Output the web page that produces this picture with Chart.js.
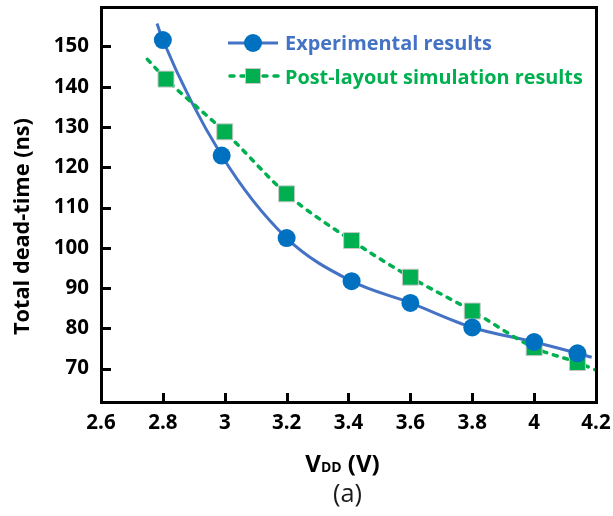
<!DOCTYPE html>
<html>
<head>
<meta charset="utf-8">
<script src="https://cdn.jsdelivr.net/npm/chart.js@4.4.1/dist/chart.umd.min.js"></script>
<style>
  html, body { margin: 0; padding: 0; background: #fff; }
  #wrap { width: 613px; height: 516px; }
</style>
</head>
<body>
<div id="wrap"><canvas id="deadTime" width="613" height="516"></canvas></div>
<script>
  // values
  var expVdd = [2.8, 2.99, 3.2, 3.41, 3.6, 3.8, 4.0, 4.14];
  var expTime = [151.6, 122.9, 102.4, 91.7, 86.3, 80.2, 76.6, 73.8];
  var simVdd = [2.81, 3.0, 3.2, 3.41, 3.6, 3.8, 4.0, 4.14];
  var simTime = [141.9, 128.8, 113.4, 101.8, 92.7, 84.3, 75.2, 71.5];
  // where the trend lines start and stop
  var expTrendVdd = [2.781, 4.186];
  var expTrendTime = [155.7, 72.8];
  var simTrendVdd = [2.75, 4.2];
  var simTrendTime = [146.8, 69.6];

  var xTicks = [2.6, 2.8, 3.0, 3.2, 3.4, 3.6, 3.8, 4.0, 4.2];
  var yTicks = [70, 80, 90, 100, 110, 120, 130, 140, 150];

  var blueLine = '#4472C4', blueDot = '#0070C0', green = '#00B050';
  var FONT = '"Open Sans"';

  function pts(xs, ys) {
    return xs.map(function(v, i) { return {x: v, y: ys[i]}; });
  }
  function trend(ends, endVals, xs, ys) {
    var p = pts(xs, ys);
    p.unshift({x: ends[0], y: endVals[0]});
    p.push({x: ends[1], y: endVals[1]});
    return p;
  }
  // font size that makes text about w pixels wide
  function fit(ctx, text, w, weight) {
    ctx.font = weight + ' 20px ' + FONT;
    return 20 * w / ctx.measureText(text).width;
  }

  var deco = {
    id: 'deco',
    afterDraw: function(chart) {
      var ctx = chart.ctx;
      var xs = chart.scales.x, ys = chart.scales.y;
      var L = Math.round(xs.left), R = Math.round(xs.right);
      var T = Math.round(ys.top), B = Math.round(ys.bottom);
      ctx.save();

      // frame and inner ticks, whole pixels only
      ctx.fillStyle = '#000';
      ctx.fillRect(L - 1, T - 1, R - L + 2, 3);
      ctx.fillRect(L - 1, B - 1, R - L + 2, 3);
      ctx.fillRect(L - 1, T - 1, 3, B - T + 3);
      ctx.fillRect(R - 1, T - 1, 3, B - T + 3);
      xTicks.slice(1, -1).forEach(function(v) {
        var px = Math.round(xs.getPixelForValue(v));
        ctx.fillRect(px - 1, B - 9, 3, 9);
      });
      yTicks.forEach(function(v) {
        var py = Math.round(ys.getPixelForValue(v));
        ctx.fillRect(L, py - 1, 10, 3);
      });

      // legend
      ctx.lineWidth = 3;
      ctx.strokeStyle = blueLine;
      ctx.beginPath(); ctx.moveTo(228, 43); ctx.lineTo(278, 43); ctx.stroke();
      ctx.fillStyle = blueDot;
      ctx.beginPath(); ctx.arc(253, 43, 9, 0, Math.PI * 2); ctx.fill();
      ctx.strokeStyle = green;
      ctx.lineWidth = 3.5;
      ctx.lineCap = 'round';
      ctx.setLineDash([4, 7]);
      ctx.beginPath(); ctx.moveTo(230, 76); ctx.lineTo(278, 76); ctx.stroke();
      ctx.setLineDash([]);
      ctx.lineCap = 'butt';
      ctx.fillStyle = green;
      ctx.fillRect(245, 68, 16, 16);
      ctx.strokeStyle = '#c8c8c8'; ctx.lineWidth = 1;
      ctx.strokeRect(245.5, 68.5, 15, 15);

      ctx.textBaseline = 'alphabetic';
      ctx.textAlign = 'left';
      var t1 = 'Experimental results', t2 = 'Post-layout simulation results';
      ctx.font = 'bold ' + fit(ctx, t1, 207, 'bold') + 'px ' + FONT;
      ctx.fillStyle = blueLine;
      ctx.fillText(t1, 285, 50);
      ctx.font = 'bold ' + fit(ctx, t2, 298, 'bold') + 'px ' + FONT;
      ctx.fillStyle = green;
      ctx.fillText(t2, 285, 84);

      // y title
      ctx.fillStyle = '#000';
      var yt = 'Total dead-time (ns)';
      ctx.font = 'bold ' + fit(ctx, yt, 217, 'bold') + 'px ' + FONT;
      ctx.save();
      ctx.translate(29, 226.5);
      ctx.rotate(-Math.PI / 2);
      ctx.textAlign = 'center';
      ctx.fillText(yt, 0, 0);
      ctx.restore();

      // x title with subscript
      var big = 'bold 24px ' + FONT, small = 'bold 14px ' + FONT;
      ctx.font = big; var w1 = ctx.measureText('V').width, w3 = ctx.measureText(' (V)').width;
      ctx.font = small; var w2 = ctx.measureText('DD').width;
      var sx = 342.5 - (w1 + w2 + w3) / 2, base = 472;
      ctx.font = big; ctx.fillText('V', sx, base);
      ctx.font = small; ctx.fillText('DD', sx + w1, base);
      ctx.font = big; ctx.fillText(' (V)', sx + w1 + w2, base);

      ctx.font = fit(ctx, '(a)', 29, 'normal') + 'px ' + FONT;
      ctx.textAlign = 'center';
      ctx.fillStyle = '#1a1a1a';
      ctx.fillText('(a)', 347.5, 502);
      ctx.restore();
    }
  };

  new Chart(document.getElementById('deadTime'), {
    type: 'scatter',
    data: {
      datasets: [{
        label: 'Experimental results',
        data: pts(expVdd, expTime),
        backgroundColor: blueDot,
        borderColor: blueDot,
        borderWidth: 0,
        pointRadius: 9,
        pointHoverRadius: 9,
        order: 0
      }, {
        label: 'Post-layout simulation results',
        data: pts(simVdd, simTime),
        pointStyle: 'rect',
        backgroundColor: green,
        borderColor: '#c8c8c8',
        borderWidth: 1,
        pointRadius: 11.3,
        pointHoverRadius: 11.3,
        order: 1
      }, {
        label: 'sim trend',
        data: trend(simTrendVdd, simTrendTime, simVdd, simTime),
        showLine: true,
        borderColor: green,
        borderWidth: 3.5,
        borderDash: [4, 7],
        borderCapStyle: 'round',
        cubicInterpolationMode: 'monotone',
        pointRadius: 0,
        order: 2
      }, {
        label: 'exp trend',
        data: trend(expTrendVdd, expTrendTime, expVdd, expTime),
        showLine: true,
        borderColor: blueLine,
        borderWidth: 3,
        cubicInterpolationMode: 'monotone',
        pointRadius: 0,
        order: 3
      }]
    },
    options: {
      responsive: false,
      animation: false,
      layout: { autoPadding: false, padding: { left: 0, top: 7, right: 17, bottom: 0 } },
      plugins: { legend: { display: false }, tooltip: { enabled: false } },
      scales: {
        x: {
          type: 'linear',
          min: 2.6, max: 4.2,
          afterBuildTicks: function(s) { s.ticks = xTicks.map(function(v) { return {value: v}; }); },
          afterFit: function(s) { s.height = 114; s.paddingLeft = 0; s.paddingRight = 0; },
          grid: { display: false, drawTicks: false },
          border: { display: false },
          ticks: {
            padding: 9,
            color: '#000',
            font: { family: FONT, weight: 'bold', size: 20.5 },
            callback: function(v) { return String(+v.toFixed(1)); }
          }
        },
        y: {
          min: 61.7, max: 159.8,
          afterBuildTicks: function(s) { s.ticks = yTicks.map(function(v) { return {value: v}; }); },
          afterFit: function(s) { s.width = 101; s.paddingTop = 0; s.paddingBottom = 0; },
          grid: { display: false, drawTicks: false },
          border: { display: false },
          ticks: {
            padding: 12,
            color: '#000',
            font: { family: FONT, weight: 'bold', size: 20.5 }
          }
        }
      }
    },
    plugins: [deco]
  });
</script>
</body>
</html>
